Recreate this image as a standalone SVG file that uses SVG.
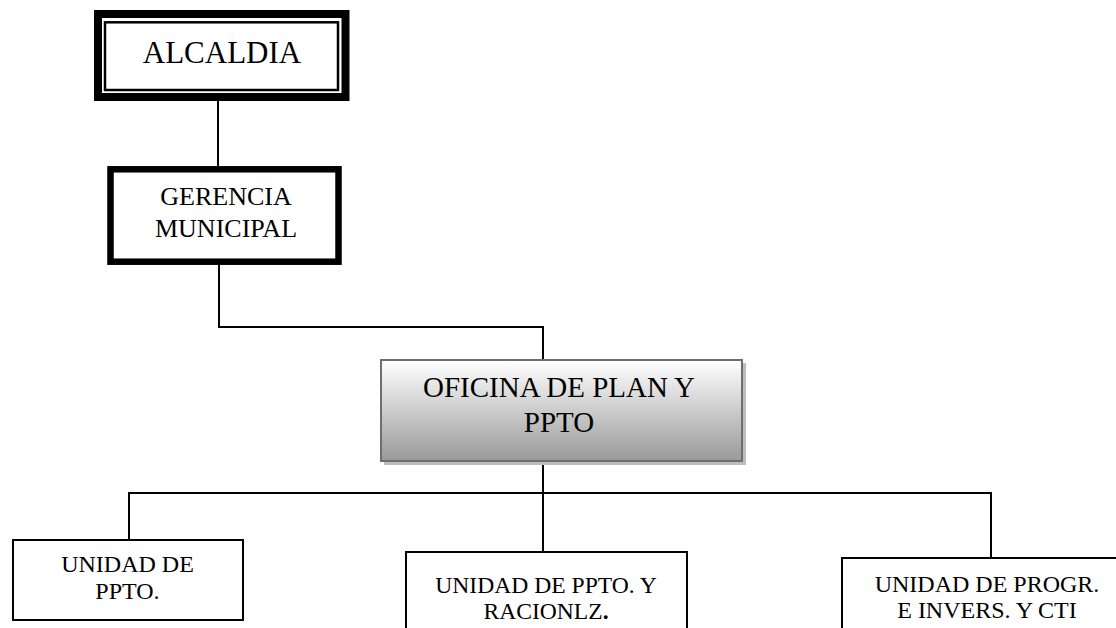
<svg xmlns="http://www.w3.org/2000/svg" width="1116" height="628" viewBox="0 0 1116 628">
  <defs>
    <linearGradient id="grad" x1="0" y1="0" x2="0" y2="1">
      <stop offset="0" stop-color="#ffffff"/>
      <stop offset="1" stop-color="#999999"/>
    </linearGradient>
  </defs>
  <style>
    text { font-family: "Liberation Serif", "Times New Roman", serif; fill: #000; text-anchor: middle; }
    .conn line { stroke: #000; stroke-width: 2; }
    .box { fill: #fff; stroke: #000; stroke-width: 2; }
  </style>
  <rect width="1116" height="628" fill="#fff"/>

  <g id="connectors" class="conn">
    <line x1="218" y1="101" x2="218" y2="166"/>
    <line x1="219" y1="265" x2="219" y2="327"/>
    <line x1="218" y1="327" x2="544" y2="327"/>
    <line x1="543" y1="326" x2="543" y2="359"/>
    <line x1="543" y1="461" x2="543" y2="551"/>
    <line x1="128" y1="493" x2="992" y2="493"/>
    <line x1="129" y1="492" x2="129" y2="539"/>
    <line x1="991" y1="492" x2="991" y2="557"/>
  </g>

  <g id="alcaldia">
    <rect x="98" y="14" width="247.5" height="83" fill="#fff" stroke="#000" stroke-width="8"/>
    <rect x="105" y="22.3" width="233" height="67.7" fill="none" stroke="#000" stroke-width="2.5"/>
    <text x="222" y="63" font-size="31">ALCALDIA</text>
  </g>

  <g id="gerencia">
    <rect x="110.5" y="169.3" width="228" height="92.4" fill="#fff" stroke="#000" stroke-width="6.5"/>
    <text x="226" y="205" font-size="26">GERENCIA</text>
    <text x="226" y="237" font-size="26">MUNICIPAL</text>
  </g>

  <g id="oficina">
    <rect x="384" y="363" width="362" height="102" fill="#bdbdbd"/>
    <rect x="381" y="360" width="361" height="101" fill="url(#grad)" stroke="#6e6e6e" stroke-width="2"/>
    <text x="559" y="397" font-size="29">OFICINA DE PLAN Y</text>
    <text x="559" y="432" font-size="29">PPTO</text>
  </g>

  <g id="unidad-ppto">
    <rect class="box" x="13" y="540" width="230" height="80"/>
    <text x="127.5" y="572" font-size="24">UNIDAD DE</text>
    <text x="127.5" y="599" font-size="24">PPTO.</text>
  </g>

  <g id="unidad-racionlz">
    <rect class="box" x="406" y="552" width="281" height="90"/>
    <text x="546" y="593" font-size="23.6">UNIDAD DE PPTO. Y</text>
    <text x="546" y="619" font-size="23.6">RACIONLZ<tspan font-weight="bold">.</tspan></text>
  </g>

  <g id="unidad-progr">
    <rect class="box" x="842" y="558" width="292" height="90"/>
    <text x="987" y="592" font-size="24">UNIDAD DE PROGR.</text>
    <text x="987" y="618" font-size="24">E INVERS. Y CTI</text>
  </g>
</svg>
